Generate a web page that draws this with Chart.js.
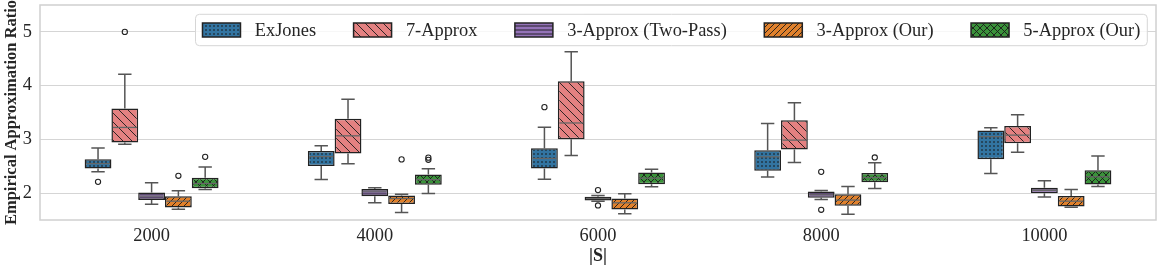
<!DOCTYPE html>
<html><head><meta charset="utf-8">
<script src="https://cdn.jsdelivr.net/npm/chart.js@4.4.1/dist/chart.umd.min.js"></script>
<style>html,body{margin:0;padding:0;background:#fff}#wrap{width:1162px;height:271px;position:relative}</style>
</head><body><div id="wrap"><canvas id="c"></canvas></div>
<script>
const categories = ['2000','4000','6000','8000','10000'];
const seriesNames = ['ExJones','7-Approx','3-Approx (Two-Pass)','3-Approx (Our)','5-Approx (Our)'];
// per category: [lowWhisker, Q1, median, Q3, highWhisker]
const exJones = [[2.40,2.46,2.55,2.63,2.84],[2.255,2.505,2.68,2.785,2.88],[2.26,2.46,2.645,2.837,3.227],[2.30,2.415,2.675,2.80,3.296],[2.366,2.632,3.05,3.165,3.215]];
const exJonesOut = [[2.21],[],[3.60],[],[]];
const approx7 = [[2.911,2.943,3.222,3.575,4.213],[2.545,2.738,3.066,3.382,3.748],[2.70,3.004,3.305,4.083,4.628],[2.571,2.81,2.986,3.355,3.68],[2.76,2.928,3.079,3.25,3.456]];
const approx7Out = [[5.0],[],[],[],[]];
const twoPass = [[1.795,1.87,1.944,2.01,2.192],[1.82,1.94,2.024,2.078,2.099],[1.851,1.864,1.9,1.931,1.957],[1.883,1.915,1.968,2.03,2.05],[1.926,1.997,2.05,2.10,2.232]];
const twoPassOut = [[],[],[2.056,1.771],[2.396,1.69],[]];
const our3 = [[1.702,1.734,1.85,1.944,2.043],[1.64,1.80,1.9,1.955,1.981],[1.615,1.697,1.82,1.901,1.99],[1.609,1.764,1.87,1.978,2.125],[1.737,1.752,1.85,1.947,2.069]];
const our3Out = [[2.322],[2.627],[],[],[]];
const our5 = [[2.069,2.09,2.18,2.285,2.487],[1.994,2.158,2.25,2.348,2.452],[2.117,2.167,2.279,2.382,2.443],[2.087,2.202,2.29,2.375,2.564],[2.125,2.161,2.303,2.425,2.69]];
const our5Out = [[2.675],[2.66,2.62],[],[2.664],[]];
const yTicks = [2,3,4,5];

const colors = ['#3274a1','#e48181','#9473b8','#e1812c','#3a923a'];
const hatches = ['dots','back','hline','fwd','cross'];
const statsList = [exJones, approx7, twoPass, our3, our5];
const outList = [exJonesOut, approx7Out, twoPassOut, our3Out, our5Out];

function makePattern(color, type){
  const sizes = {dots:4, back:9, hline:4, fwd:6, cross:7};
  const s = sizes[type];
  const c = document.createElement('canvas'); c.width = s; c.height = s;
  const g = c.getContext('2d');
  g.fillStyle = color; g.fillRect(0,0,s,s);
  g.strokeStyle = '#1a1a1a'; g.fillStyle = '#1a1a1a'; g.lineWidth = 0.9;
  g.beginPath();
  if (type==='dots'){ g.fillRect(1.3,1.3,1.4,1.4); }
  else if (type==='hline'){ g.moveTo(0,2); g.lineTo(s,2); }
  else {
    for (let k=-1;k<=1;k++){
      if (type==='back'||type==='cross'){ g.moveTo(k*s,0); g.lineTo(k*s+s,s); }
      if (type==='fwd'||type==='cross'){ g.moveTo(k*s,s); g.lineTo(k*s+s,0); }
    }
  }
  g.stroke();
  const ctx = document.getElementById('c').getContext('2d');
  return ctx.createPattern(c,'repeat');
}
const patterns = colors.map((c,i)=>makePattern(c,hatches[i]));

const FONT = '"Liberation Serif", "Times New Roman", serif';
Chart.defaults.font.family = FONT;
Chart.defaults.color = '#262626';

const datasets = seriesNames.map((name,i)=>({
  label: name,
  data: statsList[i].map(s=>[s[1], s[3]]),
  backgroundColor: patterns[i],
  borderColor: '#222222',
  borderWidth: 1.5,
  borderSkipped: false,
  categoryPercentage: 0.6,
  barPercentage: 1.0
}));

const boxPlugin = {
  id: 'boxparts',
  beforeDatasetsDraw(chart){
    const ctx = chart.ctx, y = chart.scales.y;
    ctx.save();
    ctx.strokeStyle = '#555555'; ctx.lineWidth = 1.5;
    statsList.forEach((stats,i)=>{
      const meta = chart.getDatasetMeta(i);
      meta.data.forEach((bar,j)=>{
        const s = stats[j], x = bar.x, w = bar.width;
        ctx.beginPath();
        ctx.moveTo(x, y.getPixelForValue(s[3])); ctx.lineTo(x, y.getPixelForValue(s[4]));
        ctx.moveTo(x, y.getPixelForValue(s[1])); ctx.lineTo(x, y.getPixelForValue(s[0]));
        ctx.moveTo(x-w/4, y.getPixelForValue(s[4])); ctx.lineTo(x+w/4, y.getPixelForValue(s[4]));
        ctx.moveTo(x-w/4, y.getPixelForValue(s[0])); ctx.lineTo(x+w/4, y.getPixelForValue(s[0]));
        ctx.stroke();
      });
    });
    ctx.restore();
  },
  afterDatasetsDraw(chart){
    const ctx = chart.ctx, y = chart.scales.y, a = chart.chartArea;
    ctx.save();
    statsList.forEach((stats,i)=>{
      const meta = chart.getDatasetMeta(i);
      meta.data.forEach((bar,j)=>{
        const s = stats[j], x = bar.x, w = bar.width;
        ctx.strokeStyle = '#666666'; ctx.lineWidth = 1.3;
        ctx.beginPath();
        ctx.moveTo(x-w/2+1.5, y.getPixelForValue(s[2])); ctx.lineTo(x+w/2-1.5, y.getPixelForValue(s[2]));
        ctx.stroke();
        ctx.strokeStyle = '#222222'; ctx.lineWidth = 1.1;
        outList[i][j].forEach(v=>{
          ctx.beginPath(); ctx.arc(x, y.getPixelForValue(v), 2.6, 0, Math.PI*2); ctx.stroke();
        });
      });
    });
    // frame
    ctx.strokeStyle = '#d0d0d0'; ctx.lineWidth = 1.5;
    ctx.strokeRect(a.left, a.top, a.right-a.left, a.bottom-a.top);
    // legend
    ctx.font = '18.4px ' + FONT;
    const sw = 38, sh = 14, gap = 14.3, colSp = 37.5, pad = 7;
    const tws = seriesNames.map(n=>ctx.measureText(n).width);
    let total = pad*2 + colSp*(seriesNames.length-1);
    tws.forEach(t=> total += sw + gap + t);
    const right = a.right - 8.7, left = right - total, top = 14.3, h = 31.4;
    ctx.fillStyle = 'rgba(255,255,255,0.8)';
    ctx.strokeStyle = '#d6d6d6'; ctx.lineWidth = 1;
    ctx.beginPath(); ctx.roundRect(left, top, total, h, 4); ctx.fill(); ctx.stroke();
    let cx = left + pad;
    const cy = top + h/2;
    seriesNames.forEach((n,i)=>{
      ctx.fillStyle = patterns[i];
      ctx.fillRect(cx, cy-sh/2, sw, sh);
      ctx.strokeStyle = '#222222'; ctx.lineWidth = 1.5;
      ctx.strokeRect(cx, cy-sh/2, sw, sh);
      ctx.fillStyle = '#262626'; ctx.textBaseline = 'middle'; ctx.textAlign = 'left';
      ctx.fillText(n, cx + sw + gap, cy + 1);
      cx += sw + gap + tws[i] + colSp;
    });
    ctx.restore();
  }
};

new Chart(document.getElementById('c'), {
  type: 'bar',
  data: { labels: categories, datasets },
  options: {
    responsive: true, maintainAspectRatio: false, animation: false,
    layout: { padding: { top: 5, right: 6, left: 0, bottom: 0 } },
    plugins: { legend: { display: false }, tooltip: { enabled: false } },
    scales: {
      x: {
        grid: { display: false, drawTicks: false }, border: { display: false },
        ticks: { font: { size: 18.4 }, color: '#262626', padding: 5 },
        title: { display: true, text: '|S|', font: { size: 18, weight: 'bold' }, color: '#262626', padding: { top: 0, bottom: 4 } },
        afterFit: s => { s.height = 51; s.paddingLeft = 0; s.paddingRight = 0; }
      },
      y: {
        min: 1.5, max: 5.5,
        afterBuildTicks: s => { s.ticks = yTicks.map(v=>({value:v})); },
        grid: { color: '#d5d5d5', lineWidth: 1, drawTicks: false }, border: { display: false },
        ticks: { font: { size: 18.4 }, color: '#262626', padding: 8 },
        title: { display: true, text: 'Empirical Approximation Ratio', font: { size: 16.5, weight: 'bold' }, color: '#262626', padding: { top: 1.5, bottom: 0 } },
        afterFit: s => { s.width = 40; s.paddingTop = 0; s.paddingBottom = 0; }
      }
    }
  },
  plugins: [boxPlugin]
});
</script></body></html>
